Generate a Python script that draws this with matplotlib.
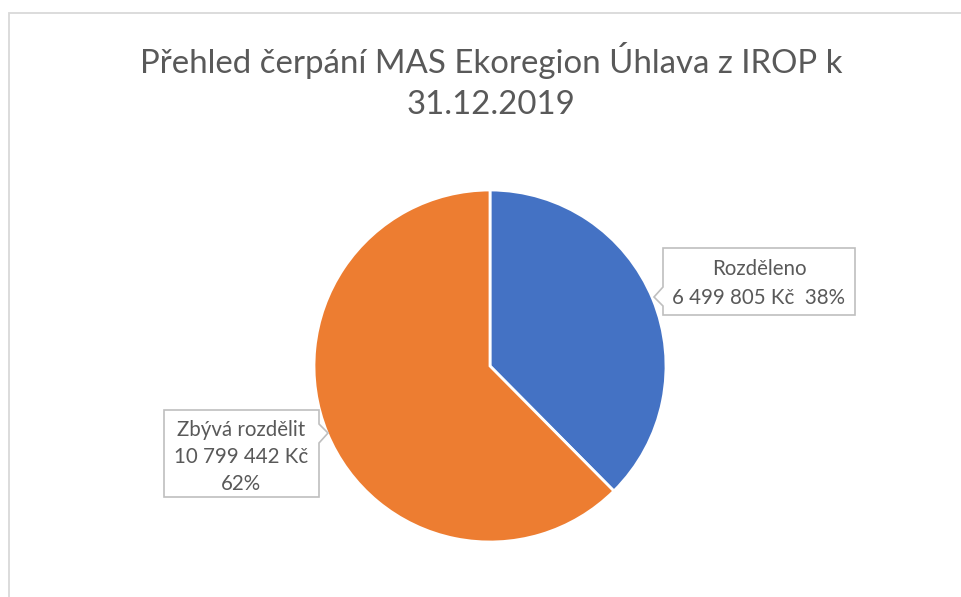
import matplotlib
matplotlib.use("Agg")
import matplotlib.pyplot as plt
from matplotlib.patches import Polygon, Rectangle

# ---- data ----
categories = ["Rozděleno", "Zbývá rozdělit"]
values = [6499805, 10799442]
value_labels = ["6 499 805 Kč", "10 799 442 Kč"]
colors = ["#4472C4", "#ED7D31"]
title = "Přehled čerpání MAS Ekoregion Úhlava z IROP k\n31.12.2019"

W, H = 961, 597
fig = plt.figure(figsize=(W / 100, H / 100), dpi=100)
FONT = ["Lato", "DejaVu Sans"]
TXT = "#595959"

def fx(x):
    return x / W

def fy(y):
    return 1 - y / H

# outer chart border (cropped at right/bottom)
fig.add_artist(Rectangle((fx(8.5), fy(H + 5)), fx(W + 10), fy(12.5) - fy(H + 5),
                         transform=fig.transFigure, fill=False,
                         edgecolor="#D9D9D9", linewidth=1.3))

# title
fig.text(fx(491), fy(81), title, ha="center", va="center", fontsize=23.8,
         color=TXT, family=FONT, linespacing=1.42)

# pie
cx, cy, r = 490, 366, 176
ax = fig.add_axes([fx(cx - r), fy(cy + r), fx(2 * r), fy(cy - r) - fy(cy + r)])
ax.pie(values, colors=colors, startangle=90, counterclock=False, radius=1,
       wedgeprops=dict(edgecolor="white", linewidth=2))
ax.set_xlim(-1, 1)
ax.set_ylim(-1, 1)
ax.set_aspect("equal")
ax.axis("off")

total = sum(values)
pcts = [f"{round(v / total * 100)}%" for v in values]

def callout(pts):
    poly = Polygon([(fx(x), fy(y)) for x, y in pts], closed=True,
                   transform=fig.transFigure, facecolor="white",
                   edgecolor="#BFBFBF", linewidth=1.2)
    fig.add_artist(poly)

LFS = 14.8

# right callout (Rozděleno)
callout([(663, 248), (855, 248), (855, 315), (663, 315), (663, 306),
         (654, 297), (663, 287)])
fig.text(fx(759), fy(269), categories[0], ha="center", va="center",
         fontsize=LFS, color=TXT, family=FONT)
fig.text(fx(759), fy(298), f"{value_labels[0]}  {pcts[0]}", ha="center",
         va="center", fontsize=LFS, color=TXT, family=FONT)

# left callout (Zbývá rozdělit)
callout([(164, 410), (319, 410), (319, 424), (328, 433), (319, 443),
         (319, 497), (164, 497)])
for i, t in enumerate([categories[1], value_labels[1], pcts[1]]):
    fig.text(fx(241), fy(430 + i * 27), t, ha="center", va="center",
             fontsize=LFS, color=TXT, family=FONT)

fig.savefig("out.png", dpi=100, facecolor="white")
